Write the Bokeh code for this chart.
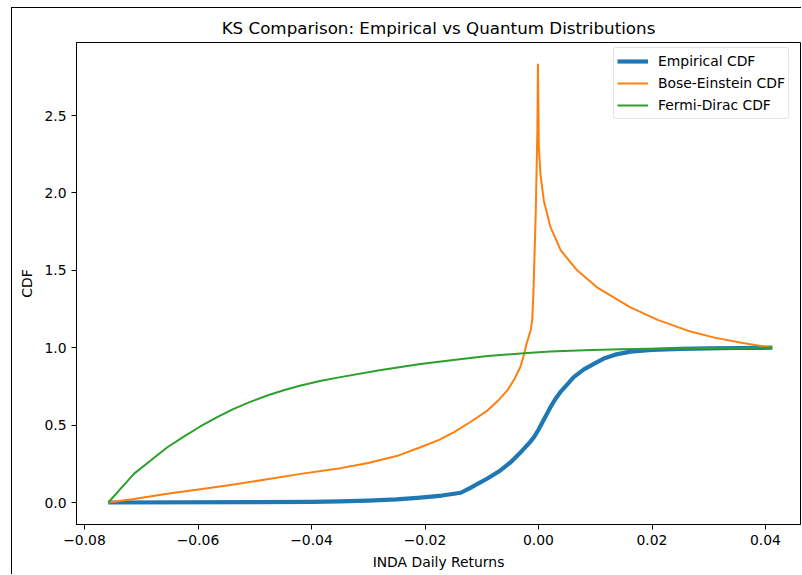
from bokeh.plotting import figure
from bokeh.models import Range1d, FixedTicker, CustomJSTickFormatter
from bokeh.embed import file_html
from bokeh.resources import INLINE

# ---- data ----
emp_x = [-0.0758, -0.05, -0.04, -0.035, -0.03, -0.025, -0.0208, -0.017, -0.0137, -0.012,
         -0.0105, -0.009, -0.007, -0.0049, -0.003, -0.0015, -0.0008, 0.0, 0.001, 0.0021,
         0.003, 0.004, 0.005, 0.0062, 0.008, 0.01, 0.0115, 0.0135, 0.0162, 0.02,
         0.025, 0.03, 0.035, 0.0412]
emp_y = [0.0, 0.002, 0.004, 0.007, 0.012, 0.02, 0.032, 0.045, 0.063, 0.095,
         0.125, 0.155, 0.2, 0.26, 0.33, 0.39, 0.422, 0.47, 0.54, 0.616,
         0.67, 0.72, 0.76, 0.81, 0.86, 0.9, 0.93, 0.955, 0.975, 0.985,
         0.993, 0.996, 0.998, 1.0]

be_x = [-0.0758, -0.0713, -0.0654, -0.0596, -0.0537, -0.0478, -0.0419, -0.0349, -0.03, -0.025,
        -0.0208, -0.0175, -0.0149, -0.012, -0.009, -0.0072, -0.0055, -0.0042, -0.0032, -0.0026,
        -0.0021, -0.0014, -0.0011, -0.0009, -0.0007, -0.0005, -0.00035, -0.0002, -0.0001, 0.00006,
        0.00035, 0.00094, 0.0021, 0.0039, 0.0068, 0.0103, 0.0162, 0.021, 0.0263, 0.031,
        0.036, 0.0412]
be_y = [0.0, 0.022, 0.056, 0.085, 0.116, 0.15, 0.185, 0.222, 0.255, 0.30,
        0.357, 0.405, 0.454, 0.52, 0.594, 0.655, 0.724, 0.80, 0.875, 0.95,
        1.025, 1.11, 1.18, 1.35, 1.6, 1.85, 2.12, 2.4, 2.83, 2.3,
        2.12, 1.95, 1.78, 1.63, 1.50, 1.39, 1.26, 1.18, 1.11, 1.065,
        1.03, 1.0]

fd_x = [-0.0758, -0.0735, -0.0713, -0.0684, -0.0654, -0.0625, -0.0596, -0.0567, -0.0537, -0.0508,
        -0.0478, -0.0449, -0.0419, -0.0385, -0.0349, -0.028, -0.0208, -0.015, -0.009, -0.002,
        0.0021, 0.008, 0.0145, 0.022, 0.03, 0.0412]
fd_y = [0.0, 0.095, 0.185, 0.27, 0.357, 0.425, 0.491, 0.55, 0.605, 0.65,
        0.691, 0.725, 0.756, 0.785, 0.81, 0.855, 0.895, 0.92, 0.946, 0.966,
        0.975, 0.984, 0.99, 0.995, 0.998, 1.0]

x_ticks = [-0.08, -0.06, -0.04, -0.02, 0.0, 0.02, 0.04]
y_ticks = [0.0, 0.5, 1.0, 1.5, 2.0, 2.5]

FONT = "DejaVu Sans"

p = figure(width=790, height=567, output_backend="svg", toolbar_location=None,
           x_range=Range1d(-0.08141, 0.046167), y_range=Range1d(-0.1421, 2.9716),
           min_border_left=64, min_border_right=2, min_border_top=34, min_border_bottom=51,
           title="KS Comparison: Empirical vs Quantum Distributions")
p.styles = {"margin-left": "11px", "margin-top": "7px",
            "border-left": "1px solid black", "border-top": "1px solid black"}

p.title.align = "center"
p.title.text_font = FONT
p.title.text_font_size = "16.7px"
p.title.text_font_style = "normal"
p.title.text_color = "black"

p.grid.visible = False
p.outline_line_color = "black"
p.outline_line_width = 1
p.outline_line_alpha = 1.0

for ax in (p.xaxis[0], p.yaxis[0]):
    ax.axis_line_color = "black"
    ax.major_tick_line_color = "black"
    ax.major_tick_out = 5
    ax.major_tick_in = 0
    ax.minor_tick_line_color = None
    ax.major_label_text_font = FONT
    ax.major_label_text_font_size = "13.9px"
    ax.major_label_text_color = "black"
    ax.major_label_standoff = 5
    ax.axis_label_text_font = FONT
    ax.axis_label_text_font_size = "13.9px"
    ax.axis_label_text_font_style = "normal"
    ax.axis_label_text_color = "black"
    ax.axis_label_standoff = 6

p.xaxis.axis_label = "INDA Daily Returns"
p.yaxis.axis_label = "CDF"
p.xaxis.ticker = FixedTicker(ticks=x_ticks)
p.yaxis.ticker = FixedTicker(ticks=y_ticks)
p.xaxis.formatter = CustomJSTickFormatter(code="return tick.toFixed(2).replace('-', '\\u2212');")
p.yaxis.formatter = CustomJSTickFormatter(code="return tick.toFixed(1).replace('-', '\\u2212');")

p.line(emp_x, emp_y, line_color="#1f77b4", line_width=4.2, line_join="round",
       legend_label="Empirical CDF")
p.line(be_x, be_y, line_color="#ff7f0e", line_width=2, line_join="round",
       legend_label="Bose-Einstein CDF")
p.line(fd_x, fd_y, line_color="#2ca02c", line_width=2, line_join="round",
       legend_label="Fermi-Dirac CDF")

lg = p.legend[0]
lg.location = (537, 405)
lg.margin = 0
lg.padding = 3
lg.spacing = 2
lg.glyph_width = 31
lg.glyph_height = 20
lg.label_height = 20
lg.label_standoff = 10
lg.label_text_font = FONT
lg.label_text_font_size = "13.9px"
lg.label_text_color = "black"
lg.border_line_color = "#cccccc"
lg.border_line_width = 1
lg.border_radius = 3
lg.background_fill_alpha = 0.8

open("out.html", "w").write(file_html(p, INLINE))
